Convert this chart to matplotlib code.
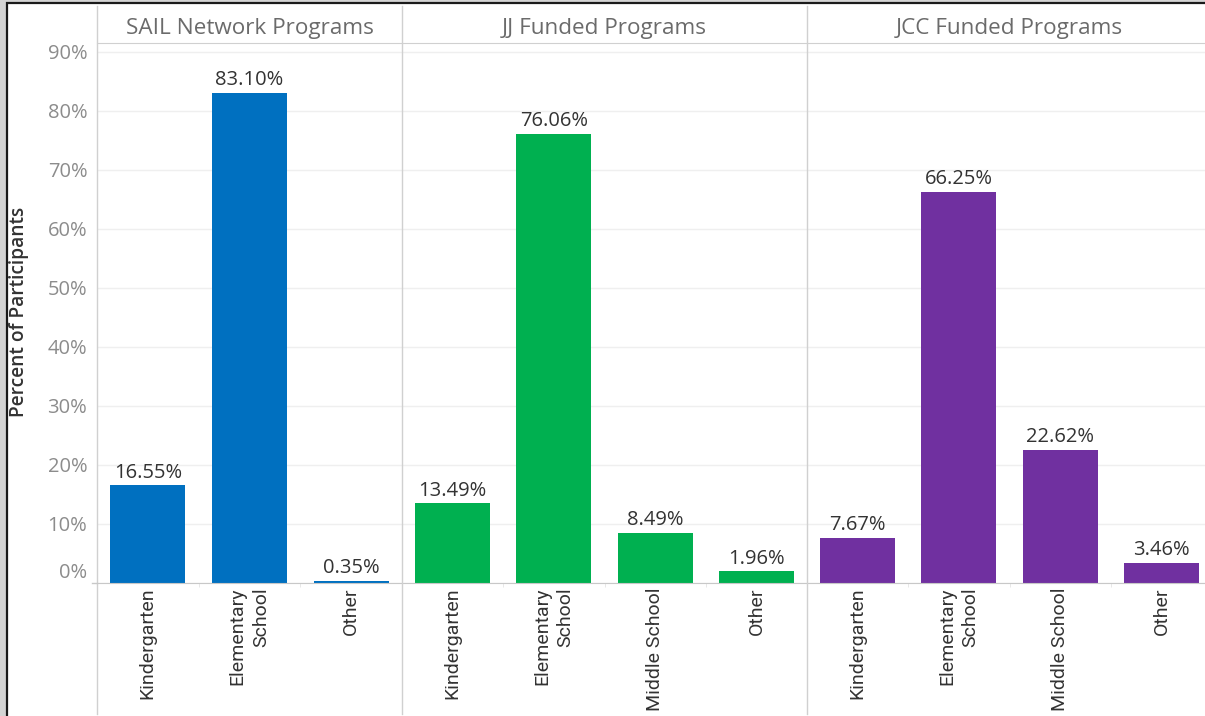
import numpy as np
import matplotlib.pyplot as plt
from matplotlib.lines import Line2D
from matplotlib.patches import Rectangle

plt.rcParams['font.family'] = ['Open Sans', 'DejaVu Sans']

panel_titles = ['SAIL Network Programs', 'JJ Funded Programs', 'JCC Funded Programs']
sail_cats = ['Kindergarten', 'Elementary\nSchool', 'Other']
sail_vals = [16.55, 83.10, 0.35]
jj_cats = ['Kindergarten', 'Elementary\nSchool', 'Middle School', 'Other']
jj_vals = [13.49, 76.06, 8.49, 1.96]
jcc_cats = ['Kindergarten', 'Elementary\nSchool', 'Middle School', 'Other']
jcc_vals = [7.67, 66.25, 22.62, 3.46]
bar_colors = ['#0070C0', '#00B050', '#7030A0']
y_ticks = [0, 10, 20, 30, 40, 50, 60, 70, 80, 90]

cats_all = [sail_cats, jj_cats, jcc_cats]
vals_all = [sail_vals, jj_vals, jcc_vals]

W, H = 1205, 716
fig = plt.figure(figsize=(W / 100, H / 100), dpi=100, facecolor='#d4d4d4')

# white card with dark frame on top/left
fig.add_artist(Rectangle((7.5 / W, -0.02), 1.0, 1 - 3 / H + 0.02, transform=fig.transFigure,
                         facecolor='white', edgecolor='#1a1a1a', lw=1.6, zorder=-5))

edges = [97, 402, 807, 1212]
top, bottom = 43, 583
grid_c = '#efefef'
line_c = '#d0d0d0'

for i in range(3):
    cats, vals = cats_all[i], vals_all[i]
    n = len(cats)
    ax = fig.add_axes([edges[i] / W, 1 - bottom / H, (edges[i + 1] - edges[i]) / W, (bottom - top) / H])
    ax.set_facecolor('none')
    x = np.arange(n)
    bars = ax.bar(x, vals, width=0.74, color=bar_colors[i])
    ax.bar_label(bars, labels=[f'{v:.2f}%' for v in vals], padding=2, fontsize=14.5, color='#333333')
    ax.set_xlim(-0.5, n - 0.5)
    ax.set_ylim(0, 91.5)

    ax.set_xticks(x)
    ax.set_xticklabels(cats, rotation=90, ha='center', va='top', multialignment='right',
                       fontsize=14.0, color='#333333', linespacing=1.4,
                       family=['Roboto', 'DejaVu Sans'])
    ax.tick_params(axis='x', length=0, pad=3)
    ax.set_xticks(np.arange(0.5, n - 1, 1), minor=True)
    ax.tick_params(axis='x', which='minor', length=3, color='#e4e4e4')

    ax.set_yticks(y_ticks)
    if i == 0:
        ax.set_yticklabels([f'{t}%' for t in y_ticks], fontsize=14.5, color='#8c8c8c')
        ax.get_yticklabels()[0].set_va('bottom')
    else:
        ax.set_yticklabels([])
    ax.tick_params(axis='y', length=0, pad=7)

    ax.set_axisbelow(True)
    ax.yaxis.grid(True, color=grid_c, lw=1)
    for s in ['left', 'right']:
        ax.spines[s].set_visible(False)
    ax.spines['top'].set_color(line_c)
    ax.spines['bottom'].set_color('#c8c8c8')

    ax.annotate(panel_titles[i], (0.5, 1), xycoords='axes fraction', xytext=(0, 10.5),
                textcoords='offset points', ha='center', va='center', fontsize=16.2, color='#6b6b6b')

# panel separators running through header and labels
for e in edges[:3]:
    fig.add_artist(Line2D([e / W, e / W], [1 - 6 / H, 1 - 714 / H], transform=fig.transFigure,
                          color=line_c, lw=1))
fig.add_artist(Line2D([92 / W, 97 / W], [1 - bottom / H] * 2, transform=fig.transFigure,
                      color='#c8c8c8', lw=1))

fig.text(19 / W, 1 - 312 / H, 'Percent of Participants', rotation=90, ha='center', va='center',
         fontsize=13.8, fontweight='semibold', color='#333333')

fig.savefig('out.png', dpi=100)
